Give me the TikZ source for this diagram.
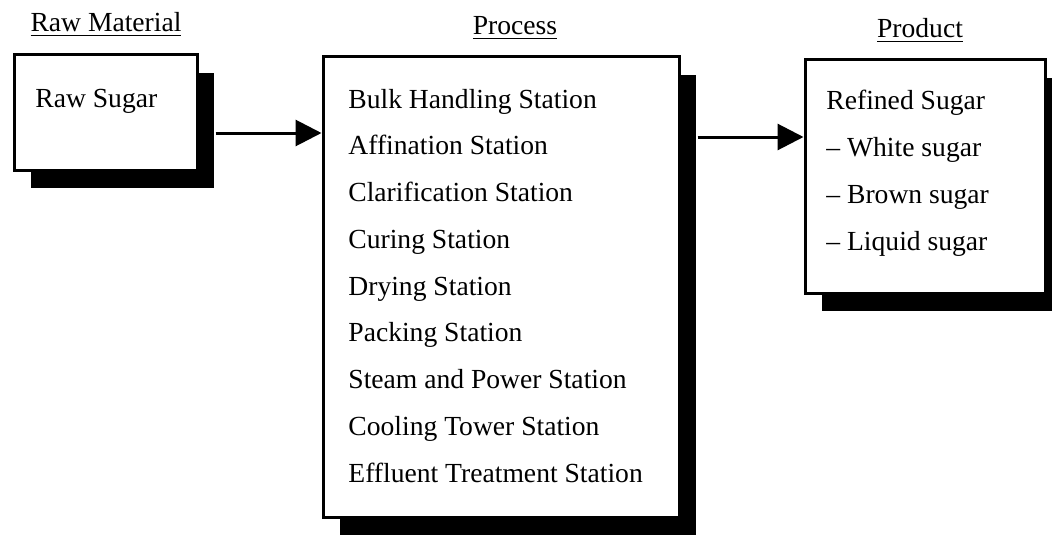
\documentclass[tikz,border=0pt]{standalone}
\usepackage{fontspec}
\setmainfont{Liberation Serif}
\usetikzlibrary{arrows.meta,shadows}

\tikzset{
  unitbox/.style={draw,line width=1.5pt,fill=white,inner sep=0pt,
    drop shadow={shadow xshift=8.5pt,shadow yshift=-9pt,opacity=1,fill=black}},
  item/.style={anchor=base west,inner sep=0pt,font=\fontsize{13.8}{16}\selectfont},
  heading/.style={anchor=base,inner sep=0pt,font=\fontsize{13.8}{16}\selectfont},
  flow/.style={line width=1.5pt,-{Triangle[length=13pt,width=13pt]}}
}

\begin{document}
\begin{tikzpicture}[x=0.5pt,y=-0.5pt]
  \useasboundingbox (0,0) rectangle (1052,535);
  % headings
  \node[heading] (hraw) at (106,32) {\underline{Raw Material}};
  \node[heading] (hproc) at (515,35) {\underline{Process}};
  \node[heading] (hprod) at (920,38) {\underline{Product}};
  % boxes
  \node[unitbox,minimum width=91.5pt,minimum height=57.5pt] (raw) at (105.5,112.5) {};
  \node[unitbox,minimum width=178pt,minimum height=230pt] (proc) at (501,287) {};
  \node[unitbox,minimum width=120pt,minimum height=116.5pt] (prod) at (925,176.5) {};
  \node[item] (rawsugar) at (35,107) {Raw Sugar};
  \foreach \s [count=\i] in {Bulk Handling Station,Affination Station,Clarification Station,
    Curing Station,Drying Station,Packing Station,Steam and Power Station,
    Cooling Tower Station,Effluent Treatment Station}
    \node[item] (st\i) at (348,{108+46.75*(\i-1)}) {\s};
  \foreach \s [count=\i] in {Refined Sugar,-- White sugar,-- Brown sugar,-- Liquid sugar}
    \node[item] (pr\i) at (826,{110+46.7*(\i-1)}) {\s};
  % arrows
  \coordinate (a1) at ([yshift=-10.25pt]raw.east);
  \draw[flow] ([xshift=8.5pt]a1) -- (a1 -| proc.west);
  \coordinate (a2) at ([yshift=19.75pt]prod.west);
  \draw[flow] ([xshift=8.5pt]a2 -| proc.east) -- (a2);
\end{tikzpicture}
\end{document}
